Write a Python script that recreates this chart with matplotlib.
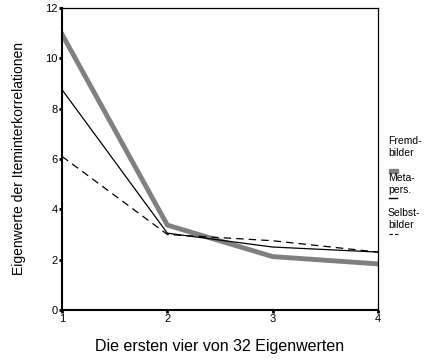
import matplotlib
matplotlib.use('Agg')
import matplotlib.pyplot as plt

plt.rcParams['font.family'] = ['Liberation Sans', 'DejaVu Sans']

komponenten = [1, 2, 3, 4]
fremdbilder = [10.95, 3.37, 2.12, 1.83]
metapers = [8.75, 3.05, 2.5, 2.3]
selbstbilder = [6.1, 3.0, 2.75, 2.3]

fig = plt.figure(figsize=(4.31, 3.6), dpi=100)
ax = fig.add_axes([0.144, 0.139, 0.733, 0.839])

ax.plot(komponenten, fremdbilder, color='#808080', lw=3.5, solid_joinstyle='miter')
ax.plot(komponenten, metapers, color='black', lw=0.9)
ax.plot(komponenten, selbstbilder, color='black', lw=0.9, dashes=(6, 4))

ax.set_xlim(1, 4)
ax.set_ylim(0, 12)
ax.set_xticks(komponenten)
ax.set_yticks([0, 2, 4, 6, 8, 10, 12])
ax.tick_params(direction='out', length=2, width=2, labelsize=8, pad=1)
for s in ['left', 'bottom']:
    ax.spines[s].set_linewidth(1.5)
for s in ['top', 'right']:
    ax.spines[s].set_linewidth(0.9)

ax.set_ylabel('Eigenwerte der Iteminterkorrelationen', fontsize=10, labelpad=14)
ax.set_xlabel('Die ersten vier von 32 Eigenwerten', fontsize=11.5, labelpad=11)

# Legende rechts
fig.text(388 / 431, 1 - 158 / 360, 'Fremd-\nbilder', fontsize=7.5, va='bottom', linespacing=1.2)
fig.patches.append(plt.Rectangle((389 / 431, 1 - 173 / 360), 9 / 431, 4 / 360,
                                 transform=fig.transFigure, color='#808080'))
fig.text(388 / 431, 1 - 195 / 360, 'Meta-\npers.', fontsize=7.5, va='bottom', linespacing=1.2)
fig.lines.append(plt.Line2D([389 / 431, 397 / 431], [1 - 198 / 360, 1 - 198 / 360],
                            transform=fig.transFigure, color='black', lw=1))
fig.text(388 / 431, 1 - 230 / 360, 'Selbst-\nbilder', fontsize=7.5, va='bottom', linespacing=1.2)
fig.lines.append(plt.Line2D([389 / 431, 400 / 431], [1 - 234 / 360, 1 - 234 / 360],
                            transform=fig.transFigure, color='black', lw=0.8, dashes=(3, 2)))

fig.savefig('out.png', dpi=100)
